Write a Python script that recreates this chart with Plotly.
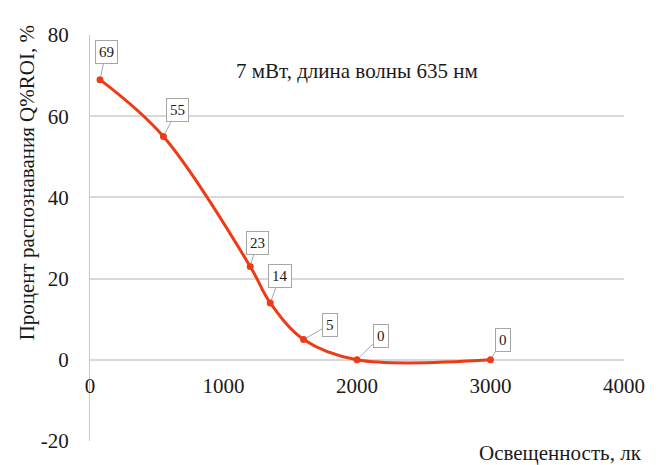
import plotly.graph_objects as go

# Illuminance (lx) and recognition rate Q%ROI (%)
illuminance = [75, 550, 1200, 1350, 1600, 2000, 3000]
recognition = [69, 55, 23, 14, 5, 0, 0]
# label box offsets (px) relative to each point
label_dx = [6, 14, 7, 10, 26, 24, 12]
label_dy = [-28, -27, -23, -27, -15, -24, -20]

x_ticks = [0, 1000, 2000, 3000, 4000]
y_ticks = [-20, 0, 20, 40, 60, 80]
y_tick_text = ["-20", "0", "20", "40", "60", "80"]

LINE_COLOR = "#EE3B16"
FONT = "Liberation Serif"
TEXT = "#1a1a1a"

fig = go.Figure()
fig.add_trace(go.Scatter(
    x=illuminance, y=recognition,
    mode="lines+markers",
    line=dict(color=LINE_COLOR, width=3, shape="spline", smoothing=1.0),
    marker=dict(color=LINE_COLOR, size=7),
    showlegend=False, hoverinfo="x+y",
))

annotations = []
for x, y, dx, dy in zip(illuminance, recognition, label_dx, label_dy):
    annotations.append(dict(
        x=x, y=y, xref="x", yref="y", text=str(y),
        showarrow=True, arrowhead=0, arrowwidth=1, arrowcolor="#a0a8b0",
        ax=dx, ay=dy, standoff=3,
        bordercolor="#a6a6a6", borderwidth=1, borderpad=3, bgcolor="white",
        font=dict(family=FONT, size=15, color=TEXT),
    ))

annotations.append(dict(
    x=0.5, y=0.911, xref="paper", yref="paper", showarrow=False,
    xanchor="center", yanchor="middle",
    text="7 мВт, длина волны 635 нм",
    font=dict(family=FONT, size=21, color=TEXT),
))
annotations.append(dict(
    x=-0.118, y=0.637, xref="paper", yref="paper", showarrow=False,
    xanchor="center", yanchor="middle",
    text="Процент распознавания Q%ROI, %", textangle=-90,
    font=dict(family=FONT, size=21, color=TEXT),
))
annotations.append(dict(
    x=1.037, y=-0.03, xref="paper", yref="paper", showarrow=False,
    xanchor="right", yanchor="middle",
    text="Освещенность, лк",
    font=dict(family=FONT, size=21, color=TEXT),
))

fig.update_layout(
    width=660, height=465,
    margin=dict(l=90, r=36, t=35, b=24),
    paper_bgcolor="white", plot_bgcolor="white",
    font=dict(family=FONT, size=21, color=TEXT),
    annotations=annotations,
    xaxis=dict(
        range=[0, 4000], tickvals=x_ticks,
        showgrid=False, zeroline=False, showline=False,
        anchor="free", position=0.2, ticklabelstandoff=11,
        tickfont=dict(family=FONT, size=21, color=TEXT),
    ),
    yaxis=dict(
        range=[-20, 80], tickvals=y_ticks, ticktext=y_tick_text,
        showgrid=True, gridcolor="#d9d9d9", gridwidth=1.5,
        zeroline=False, showline=True, linecolor="#c8c8c8", linewidth=1,
        ticklabelstandoff=16,
        tickfont=dict(family=FONT, size=21, color=TEXT),
    ),
)

fig.write_html("out.html")
